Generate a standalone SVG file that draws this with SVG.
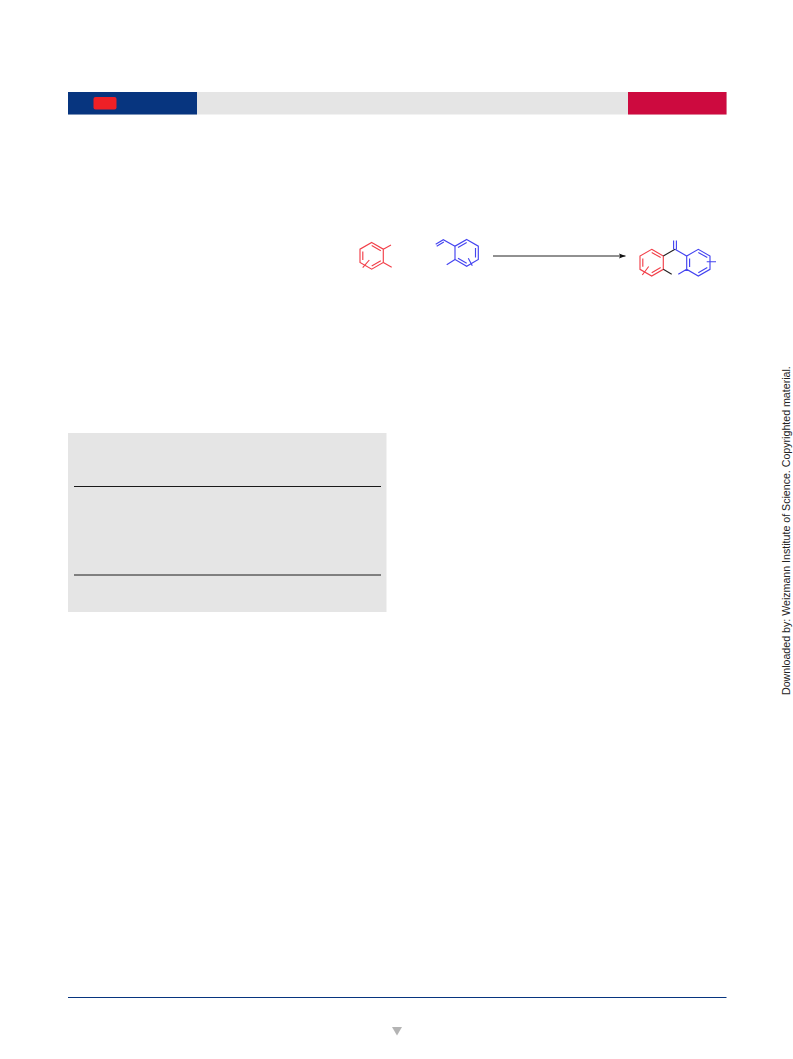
<svg xmlns="http://www.w3.org/2000/svg" width="793" height="1059" viewBox="0 0 793 1059">
<style>
.red{fill:none;stroke:#f2404a;stroke-width:1.150}
.blue{fill:none;stroke:#4444f0;stroke-width:1.150}
.blk{fill:none;stroke:#222;stroke-width:1.100}
.rule{stroke:#1a1a1a;stroke-width:1}
</style>
<defs>
<marker id="ah" markerWidth="7" markerHeight="6" refX="6.500" refY="3" orient="auto" markerUnits="userSpaceOnUse"><path d="M0 .5L6.500 3L0 5.500L1.200 3Z" fill="#111"/></marker>
</defs>
<rect width="793" height="1059" fill="#fff"/>
<g id="header">
<rect x="68" y="92" width="659" height="22.500" fill="#e5e5e5"/>
<rect x="68" y="92" width="129" height="22.500" fill="#07357f"/>
<rect x="628" y="92" width="98.500" height="22.500" fill="#cd0a3f"/>
<rect x="93.500" y="97" width="23" height="12.500" rx="2" fill="#ee2026"/>
</g>
<g id="reactant-1">
<path class="red" d="M371.700 242.500L383.300 249.200V262.500L371.700 269.200L360 262.500V249.200Z"/>
<path class="red" d="M362.800 260V251.500M371.700 266.100L380.800 260.800M380.800 250.800L371.700 245.600"/>
<path class="red" d="M383.300 249.200L391 245M383.300 262.500L391.700 267.300M362.700 267.700L369.300 260"/>
</g>
<g id="reactant-2">
<path class="blue" d="M466.700 239.500L478.300 246.200V259.500L466.700 266.300L455 259.500V246.200Z"/>
<path class="blue" d="M475.500 257.500V248M458 247.500L466.700 242.600M458 258.300L466.700 263.300"/>
<path class="blue" d="M455 246.200L443.300 239.700L435.700 244.200M443.800 242L436.700 246.200M455 259.500L446.700 264.700M468.300 258.300L472.300 265.700"/>
</g>
<g id="connectors">
<line x1="493" y1="256" x2="625.500" y2="256" stroke="#222" stroke-width="1" marker-end="url(#ah)"/>
</g>
<g id="product">
<path class="red" d="M651.700 249.300L663.300 256V269.300L651.700 276L640 269.300V256Z"/>
<path class="red" d="M642.800 266.800V258.500M651.700 272.800L660.700 267.500M660.700 257.600L651.700 252.400M642.300 275L648.700 266.500"/>
<path class="blk" d="M663.300 256L675 249.300M663.300 269.300L671.700 274.300"/>
<path class="blue" d="M675 249.300L686.700 256L698.300 249.300L710 256V269.300L698.300 276L686.700 269.300V256M689.600 267V258.500M698.300 252.400L707.300 257.600M698.300 272.800L707.300 267.500M678.300 274.300L686.700 269.300M706.700 261.700H716M673.600 249.300V240.500M676.400 249.300V240.500"/>
</g>
<g id="panel">
<rect x="68" y="433" width="318.500" height="179" fill="#e5e5e5"/>
<line class="rule" x1="74" y1="486.500" x2="381" y2="486.500"/>
<line class="rule" x1="74" y1="575" x2="381" y2="575"/>
</g>
<g id="footer">
<line x1="68" y1="997.500" x2="726.500" y2="997.500" stroke="#07357f" stroke-width="1"/>
<path d="M392 1027H402L397 1035.500Z" fill="#b4b4b4"/>
</g>
<text id="watermark" transform="translate(790 695) rotate(-90)" font-family="'Liberation Sans',Arial,sans-serif" font-size="10.630" fill="#222">Downloaded by: Weizmann Institute of Science. Copyrighted material.</text>
</svg>
